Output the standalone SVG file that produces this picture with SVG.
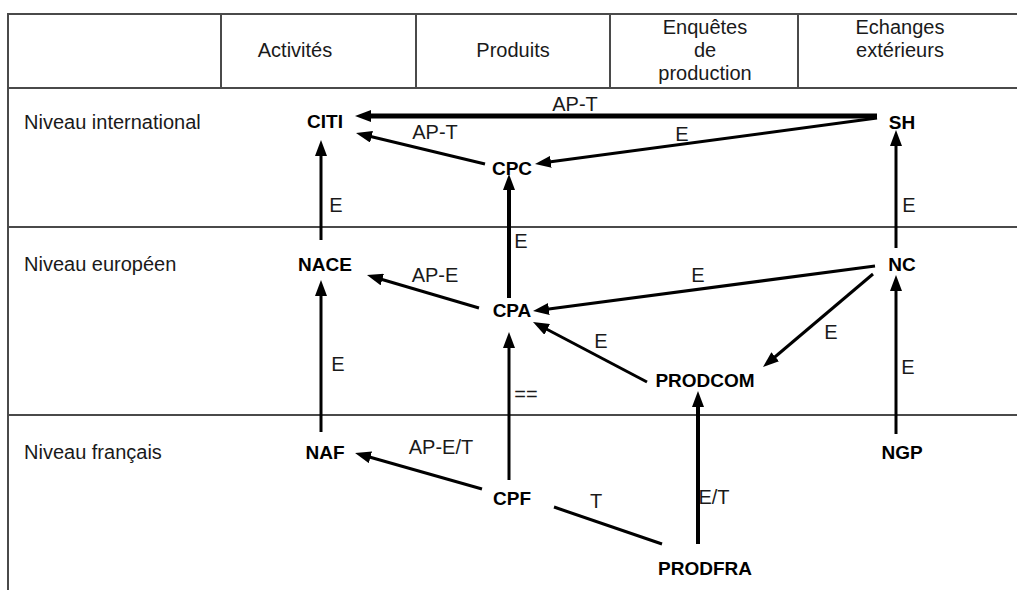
<svg xmlns="http://www.w3.org/2000/svg" width="1017" height="590" viewBox="0 0 1017 590">
<style>
.grid{stroke:#4a4a4a;stroke-width:2;fill:none}
.hd{font-family:"Liberation Sans",Arial,sans-serif;font-size:20px;fill:#1a1a1a;text-anchor:middle}
.row{font-family:"Liberation Sans",Arial,sans-serif;font-size:20px;fill:#1a1a1a}
.node{font-family:"Liberation Sans",Arial,sans-serif;font-size:19px;font-weight:bold;fill:#000;text-anchor:middle}
.lbl{font-family:"Liberation Sans",Arial,sans-serif;font-size:20px;fill:#1a1a1a;text-anchor:middle}
.c{stroke:#000;stroke-width:3;fill:none}
.c4{stroke-width:4}
.c5{stroke-width:5}
</style>
<defs>
<marker id="ah" markerUnits="userSpaceOnUse" markerWidth="16" markerHeight="12" refX="2" refY="6" orient="auto">
<path d="M0,0 L16,6 L0,12 z" fill="#000"/>
</marker>
</defs>
<rect width="1017" height="590" fill="#fff"/>
<g id="table">
<line class="grid" x1="8" y1="14" x2="1017" y2="14"/>
<line class="grid" x1="8" y1="88" x2="1017" y2="88"/>
<line class="grid" x1="8" y1="227" x2="1017" y2="227"/>
<line class="grid" x1="8" y1="415" x2="1017" y2="415"/>
<line class="grid" x1="8" y1="13" x2="8" y2="590"/>
<line class="grid" x1="221" y1="14" x2="221" y2="88"/>
<line class="grid" x1="416" y1="14" x2="416" y2="88"/>
<line class="grid" x1="610" y1="14" x2="610" y2="88"/>
<line class="grid" x1="798" y1="14" x2="798" y2="88"/>
<text class="hd" x="295" y="57">Activités</text>
<text class="hd" x="513" y="57">Produits</text>
<text class="hd" x="705" y="34">Enquêtes</text>
<text class="hd" x="705" y="57">de</text>
<text class="hd" x="705" y="80">production</text>
<text class="hd" x="900" y="34">Echanges</text>
<text class="hd" x="900" y="57">extérieurs</text>
<text class="row" x="24" y="129">Niveau international</text>
<text class="row" x="24" y="271">Niveau européen</text>
<text class="row" x="24" y="459">Niveau français</text>
</g>
<g id="connectors">
<line class="c c5" x1="877" y1="116" x2="369" y2="116" marker-end="url(#ah)"/>
<line class="c" x1="877" y1="118" x2="548.9" y2="162.1" marker-end="url(#ah)"/>
<line class="c" x1="485" y1="164" x2="369.6" y2="136.3" marker-end="url(#ah)"/>
<line class="c" x1="321" y1="240" x2="321" y2="154" marker-end="url(#ah)"/>
<line class="c c4" x1="509" y1="298" x2="509" y2="188" marker-end="url(#ah)"/>
<line class="c" x1="896" y1="248" x2="896" y2="144" marker-end="url(#ah)"/>
<line class="c" x1="479" y1="308" x2="380.4" y2="279" marker-end="url(#ah)"/>
<line class="c" x1="875" y1="266" x2="546.9" y2="309.2" marker-end="url(#ah)"/>
<line class="c" x1="873" y1="274" x2="773.7" y2="358" marker-end="url(#ah)"/>
<line class="c" x1="647" y1="382" x2="545.4" y2="328.5" marker-end="url(#ah)"/>
<line class="c" x1="896" y1="434" x2="896" y2="289" marker-end="url(#ah)"/>
<line class="c" x1="321" y1="432" x2="321" y2="294" marker-end="url(#ah)"/>
<line class="c" x1="509" y1="480" x2="509" y2="346" marker-end="url(#ah)"/>
<line class="c" x1="482" y1="489" x2="368.5" y2="456.8" marker-end="url(#ah)"/>
<line class="c" x1="554" y1="507" x2="662" y2="544"/>
<line class="c c4" x1="698" y1="544" x2="698" y2="405" marker-end="url(#ah)"/>
<text class="lbl" x="575" y="111">AP-T</text>
<text class="lbl" x="682" y="141">E</text>
<text class="lbl" x="435" y="139">AP-T</text>
<text class="lbl" x="336" y="212">E</text>
<text class="lbl" x="521" y="248">E</text>
<text class="lbl" x="909" y="212">E</text>
<text class="lbl" x="435" y="282">AP-E</text>
<text class="lbl" x="698" y="282">E</text>
<text class="lbl" x="831" y="339">E</text>
<text class="lbl" x="601" y="348">E</text>
<text class="lbl" x="908" y="374">E</text>
<text class="lbl" x="338" y="371">E</text>
<text class="lbl" x="526" y="401">==</text>
<text class="lbl" x="441" y="454">AP-E/T</text>
<text class="lbl" x="596" y="508">T</text>
<text class="lbl" x="714" y="504">E/T</text>
</g>
<g id="CITI"><text class="node" x="325" y="128">CITI</text></g>
<g id="CPC"><text class="node" x="512" y="175">CPC</text></g>
<g id="SH"><text class="node" x="902" y="129">SH</text></g>
<g id="NACE"><text class="node" x="325" y="271">NACE</text></g>
<g id="CPA"><text class="node" x="512" y="317">CPA</text></g>
<g id="NC"><text class="node" x="902" y="271">NC</text></g>
<g id="PRODCOM"><text class="node" x="705" y="387">PRODCOM</text></g>
<g id="NAF"><text class="node" x="325" y="459">NAF</text></g>
<g id="CPF"><text class="node" x="512" y="505">CPF</text></g>
<g id="PRODFRA"><text class="node" x="705" y="575">PRODFRA</text></g>
<g id="NGP"><text class="node" x="902" y="459">NGP</text></g>
</svg>
